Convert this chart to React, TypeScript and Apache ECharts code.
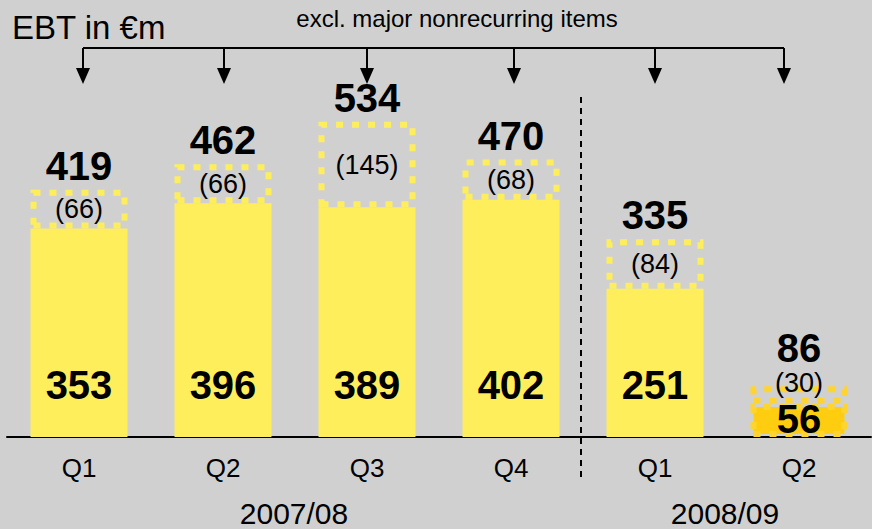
import React, { useEffect, useRef } from "react";
import * as echarts from "echarts";

// Quarterly EBT in €m: underlying result and major nonrecurring items
const quarters = ["Q1", "Q2", "Q3", "Q4", "Q1", "Q2"];
const fiscalYears = ["2007/08", "2008/09"];
const ebtUnderlying = [353, 396, 389, 402, 251, 56];
const nonrecurring = [66, 66, 145, 68, 84, 30];
const ebtTotal = ebtUnderlying.map((v, i) => v + nonrecurring[i]);

const YELLOW = "#ffee5c";
const AMBER = "#ffcd0f";
const AMBER_DOT = "#ffd42e";
const BG = "#d0d0d0";
const FONT = "'Liberation Sans', Arial, sans-serif";

const arrowXs = [83, 224, 367, 514, 655, 784];

export default function App() {
  const ref = useRef<HTMLDivElement>(null);

  useEffect(() => {
    document.body.style.margin = "0";
    if (!ref.current) return;
    const chart = echarts.init(ref.current, undefined, { renderer: "svg" });

    // the latest quarter is small, so its three labels are spread apart
    const last = quarters.length - 1;

    const arrowGraphics: any[] = [
      {
        type: "line",
        shape: { x1: arrowXs[0], y1: 48, x2: arrowXs[arrowXs.length - 1], y2: 48 },
        style: { stroke: "#000", lineWidth: 2 },
      },
    ];
    arrowXs.forEach((x) => {
      arrowGraphics.push({
        type: "line",
        shape: { x1: x, y1: 48, x2: x, y2: 70 },
        style: { stroke: "#000", lineWidth: 2 },
      });
      arrowGraphics.push({
        type: "polygon",
        shape: { points: [[x - 7, 68], [x + 7, 68], [x, 84]] },
        style: { fill: "#000" },
      });
    });

    const yearText = (text: string, x: number) => ({
      type: "text",
      x,
      y: 513,
      style: {
        text,
        font: `30px ${FONT}`,
        fill: "#000",
        align: "center",
        verticalAlign: "middle",
      },
    });

    chart.setOption({
      animation: false,
      backgroundColor: BG,
      grid: { left: 7, right: 1, top: 71, bottom: 92, containLabel: false },
      xAxis: {
        type: "category",
        data: quarters,
        axisLine: { show: true, lineStyle: { color: "#000", width: 2 } },
        axisTick: { show: false },
        axisLabel: {
          color: "#000",
          fontFamily: FONT,
          fontSize: 26,
          margin: 18,
        },
      },
      yAxis: { type: "value", min: 0, max: 620, show: false },
      series: [
        {
          name: "EBT excl. nonrecurring",
          type: "bar",
          stack: "ebt",
          barWidth: 97,
          data: ebtUnderlying.map((v, i) =>
            i === last
              ? {
                  value: v,
                  itemStyle: {
                    color: AMBER,
                    borderColor: AMBER_DOT,
                    borderWidth: 6,
                    borderType: [7, 9],
                  },
                  label: { distance: 1, lineHeight: 34 },
                }
              : { value: v }
          ),
          itemStyle: { color: YELLOW },
          label: {
            show: true,
            position: "insideBottom",
            distance: 32,
            color: "#000",
            fontFamily: FONT,
            fontWeight: "bold",
            fontSize: 40,
          },
          z: 2,
        },
        {
          name: "Major nonrecurring items",
          type: "bar",
          stack: "ebt",
          barWidth: 97,
          data: nonrecurring.map((v, i) =>
            i === last
              ? {
                  value: v,
                  itemStyle: { borderColor: AMBER_DOT },
                  label: { offset: [0, -12], lineHeight: 24 },
                }
              : { value: v }
          ),
          itemStyle: {
            color: "rgba(0,0,0,0)",
            borderColor: YELLOW,
            borderWidth: 6,
            borderType: [7, 9],
          },
          label: {
            show: true,
            position: "inside",
            color: "#000",
            fontFamily: FONT,
            fontSize: 27,
            formatter: (p: any) => `(${p.value})`,
          },
          z: 3,
        },
        {
          name: "EBT",
          type: "scatter",
          symbolSize: 0,
          data: ebtTotal.map((v, i) =>
            i === last ? { value: v, label: { distance: 18 } } : { value: v }
          ),
          itemStyle: { opacity: 1 },
          label: {
            show: true,
            position: "top",
            distance: 4,
            color: "#000",
            fontFamily: FONT,
            fontWeight: "bold",
            fontSize: 40,
          },
          z: 4,
        },
      ],
      graphic: [
        {
          type: "text",
          x: 12,
          y: 27,
          style: {
            text: "EBT in €m",
            font: `33px ${FONT}`,
            fill: "#000",
            align: "left",
            verticalAlign: "middle",
          },
        },
        {
          type: "text",
          x: 457,
          y: 18,
          style: {
            text: "excl. major nonrecurring items",
            font: `24px ${FONT}`,
            fill: "#000",
            align: "center",
            verticalAlign: "middle",
          },
        },
        ...arrowGraphics,
        {
          type: "line",
          shape: { x1: 581, y1: 97, x2: 581, y2: 482 },
          style: { stroke: "#000", lineWidth: 2, lineDash: [6, 5] },
        },
        yearText(fiscalYears[0], 294),
        yearText(fiscalYears[1], 725),
      ],
    });

    return () => chart.dispose();
  }, []);

  return <div ref={ref} style={{ width: 872, height: 529, background: BG }} />;
}
